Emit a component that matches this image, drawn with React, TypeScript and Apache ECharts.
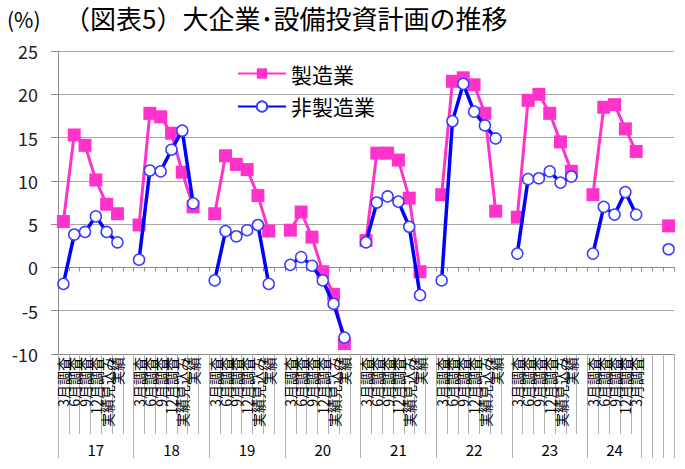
import React, { useEffect, useRef } from "react";
import * as echarts from "echarts";

// Fiscal years shown on the second axis level
const years = ["17", "18", "19", "20", "21", "22", "23", "24"];
// Survey labels for a completed fiscal year (7th slot is a spacer)
const surveyLabels = ["3月調査", "6月調査", "9月調査", "12月調査", "実績見込み", "実績", ""];
// Survey labels for the latest, still running fiscal year
const latestLabels = ["3月調査", "6月調査", "9月調査", "12月調査", "3月調査", "", ""];

// 前年度比 (%) — 製造業, one array per fiscal year (17 .. 24, then 25)
const manufacturing: number[][] = [
  [5.3, 15.3, 14.1, 10.1, 7.3, 6.2],
  [4.9, 17.8, 17.4, 15.5, 11.0, 7.0],
  [6.2, 12.9, 11.9, 11.3, 8.3, 4.2],
  [4.3, 6.4, 3.5, -0.5, -3.1, -8.8],
  [3.1, 13.2, 13.2, 12.4, 8.0, -0.5],
  [8.4, 21.5, 21.9, 21.1, 17.8, 6.5],
  [5.8, 19.3, 20.0, 17.8, 14.5, 11.1],
  [8.4, 18.5, 18.8, 16.0, 13.4],
  [4.8],
];

// 前年度比 (%) — 非製造業
const nonManufacturing: number[][] = [
  [-1.9, 3.8, 4.1, 5.9, 4.1, 2.9],
  [0.9, 11.2, 11.1, 13.6, 15.8, 7.4],
  [-1.5, 4.2, 3.6, 4.3, 4.9, -1.9],
  [0.3, 1.2, 0.2, -1.5, -4.2, -8.1],
  [2.9, 7.5, 8.2, 7.6, 4.7, -3.2],
  [-1.5, 16.9, 21.2, 18.0, 16.4, 14.9],
  [1.6, 10.2, 10.3, 11.1, 9.8, 10.5],
  [1.6, 7.0, 6.1, 8.7, 6.1],
  [2.1],
];

const SLOTS = 7;
const FONT = "'Noto Sans CJK JP', 'Noto Sans', sans-serif";

// Flatten the per-year arrays into one slot-per-category series, leaving gaps
function flatten(groups: number[][]): (number | null)[] {
  const out: (number | null)[] = [];
  groups.forEach((g, i) => {
    const last = i === groups.length - 1;
    const width = last ? g.length : SLOTS;
    for (let k = 0; k < width; k++) out.push(k < g.length ? g[k] : null);
  });
  return out;
}

const mfgData = flatten(manufacturing);
const nonMfgData = flatten(nonManufacturing);
const total = mfgData.length;

// Category (survey) labels and year labels, one per slot
const monthCats: string[] = [];
const yearCats: string[] = [];
const yearTickIdx: number[] = [];
years.forEach((y, i) => {
  const labels = i === years.length - 1 ? latestLabels : surveyLabels;
  const used = labels.filter((l) => l !== "").length;
  const groupLen = i === years.length - 1 ? used : SLOTS;
  const start = i * SLOTS;
  yearTickIdx.push(start);
  for (let k = 0; k < SLOTS; k++) {
    monthCats.push(labels[k]);
    yearCats.push(k === Math.floor(groupLen / 2) ? y : "");
  }
  if (i === years.length - 1) {
    for (let k = groupLen; k < SLOTS; k++) yearTickIdx.push(start + k);
  }
});
while (monthCats.length < total) {
  yearTickIdx.push(monthCats.length);
  monthCats.push("");
  yearCats.push("");
}
const slotIds = monthCats.map((_, i) => String(i));

export default function App() {
  const ref = useRef<HTMLDivElement>(null);

  useEffect(() => {
    if (!ref.current) return;
    const chart = echarts.init(ref.current, undefined, { renderer: "svg" });
    const gridGray = "#A6A6A6";
    const axisGray = "#8C8C8C";

    chart.setOption({
      animation: false,
      textStyle: { fontFamily: FONT },
      grid: { left: 58, right: 11, top: 51, bottom: 115, containLabel: false },
      graphic: [
        {
          type: "text",
          left: 7,
          top: 8,
          style: { text: "(%)", font: `21px ${FONT}`, fill: "#000" },
        },
        {
          type: "text",
          left: 64,
          top: 4,
          style: { text: "（図表5）大企業･設備投資計画の推移", font: `26px ${FONT}`, fill: "#000" },
        },
      ],
      legend: {
        orient: "vertical",
        left: 232,
        top: 58,
        itemWidth: 48,
        itemHeight: 13,
        itemGap: 12,
        textStyle: { fontSize: 21, color: "#000", fontFamily: FONT },
        data: ["製造業", "非製造業"],
      },
      xAxis: [
        {
          type: "category",
          data: slotIds,
          boundaryGap: true,
          axisLine: { onZero: true, lineStyle: { color: axisGray, width: 1 } },
          axisTick: { show: true, length: 4, interval: 0, lineStyle: { color: axisGray } },
          axisLabel: { show: false },
          splitLine: { show: false },
        },
        {
          type: "category",
          data: monthCats,
          position: "bottom",
          boundaryGap: true,
          axisLine: { onZero: false, lineStyle: { color: axisGray, width: 1 } },
          axisTick: { show: true, length: 80, interval: 0, lineStyle: { color: "#B0B0B0" } },
          axisLabel: {
            interval: 0,
            rotate: 90,
            margin: 3,
            fontSize: 14,
            color: "#000",
            fontFamily: FONT,
          },
          splitLine: { show: false },
        },
        {
          type: "category",
          data: yearCats,
          position: "bottom",
          boundaryGap: true,
          axisLine: { show: false, onZero: false },
          axisTick: {
            show: true,
            length: 104,
            interval: (index: number) => yearTickIdx.includes(index),
            lineStyle: { color: "#B0B0B0" },
          },
          axisLabel: { interval: 0, margin: 88, fontSize: 15, color: "#000", fontFamily: FONT },
          splitLine: { show: false },
        },
      ],
      yAxis: {
        type: "value",
        min: -10,
        max: 25,
        interval: 5,
        axisLine: { show: true, lineStyle: { color: axisGray } },
        axisTick: { show: true, length: 7, lineStyle: { color: axisGray } },
        axisLabel: { fontSize: 18, color: "#222", margin: 20, fontFamily: FONT },
        splitLine: { show: true, lineStyle: { color: gridGray, width: 1 } },
      },
      series: [
        {
          name: "製造業",
          type: "line",
          xAxisIndex: 0,
          data: mfgData,
          connectNulls: false,
          symbol: "rect",
          symbolSize: 13,
          showSymbol: true,
          showAllSymbol: true,
          lineStyle: { color: "#FF33CC", width: 3 },
          itemStyle: { color: "#FF33CC", borderColor: "#FF33CC", borderWidth: 0 },
          z: 2,
        },
        {
          name: "非製造業",
          type: "line",
          xAxisIndex: 0,
          data: nonMfgData,
          connectNulls: false,
          symbol: "circle",
          symbolSize: 11,
          showSymbol: true,
          showAllSymbol: true,
          lineStyle: { color: "#0000FF", width: 3.5 },
          itemStyle: { color: "#FFFFFF", borderColor: "#3B3BFF", borderWidth: 1.5 },
          z: 3,
        },
      ],
    });

    return () => chart.dispose();
  }, []);

  return (
    <div
      ref={ref}
      style={{ position: "fixed", left: 0, top: 0, width: 685, height: 469, background: "#fff" }}
    />
  );
}
